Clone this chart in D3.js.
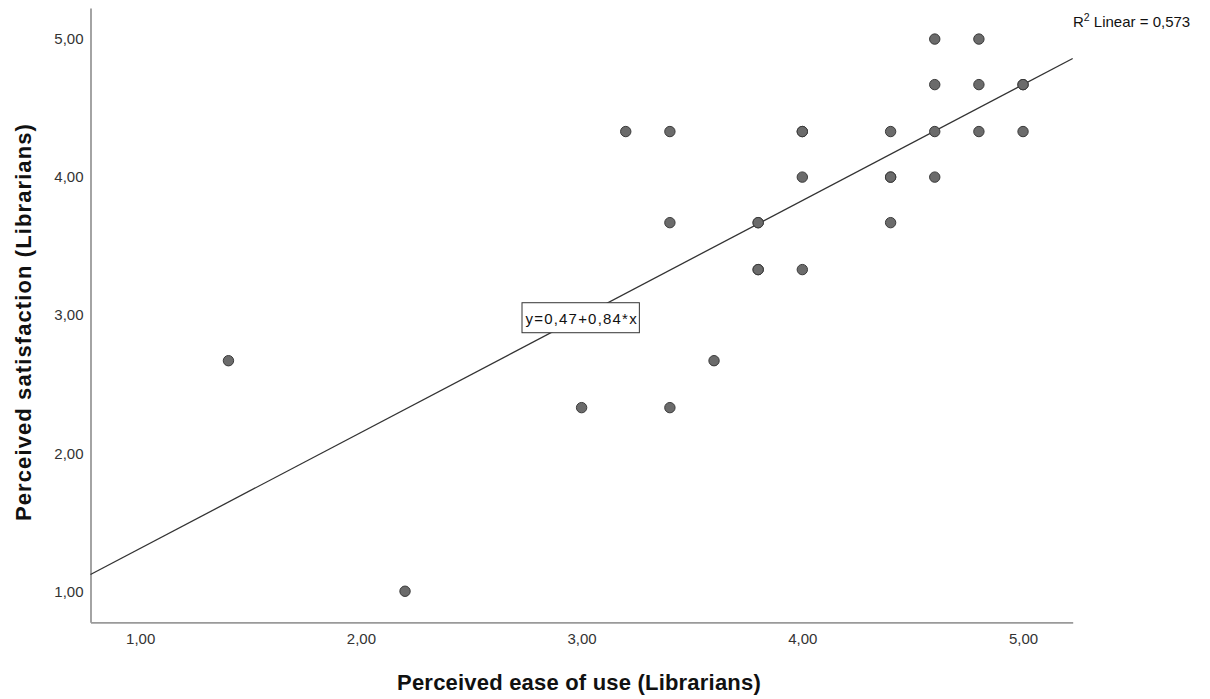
<!DOCTYPE html>
<html><head><meta charset="utf-8">
<script src="https://cdn.jsdelivr.net/npm/d3@7"></script>
<style>body{margin:0;background:#fff}svg{display:block}</style>
</head><body>
<svg id="c" width="1210" height="699"></svg>
<script>
const xValues = [1.4, 2.2, 3.0, 3.2, 3.4, 3.4, 3.4, 3.6, 3.8, 3.8, 3.8, 3.8, 4.0, 4.0, 4.0, 4.0, 4.4, 4.4, 4.4, 4.4, 4.6, 4.6, 4.6, 4.6, 4.8, 4.8, 4.8, 5.0, 5.0, 5.0];
const yValues = [2.67, 1.00, 2.33, 4.33, 4.33, 3.67, 2.33, 2.67, 3.67, 3.67, 3.33, 3.33, 4.33, 4.33, 4.00, 3.33, 4.33, 4.00, 4.00, 3.67, 5.00, 4.67, 4.33, 4.00, 5.00, 4.67, 4.33, 4.67, 4.67, 4.33];
const xTicks = [1, 2, 3, 4, 5];
const yTicks = [1, 2, 3, 4, 5];
const fitIntercept = 0.47, fitSlope = 0.84;
const fitLabel = "y=0,47+0,84*x";
const r2Label = "0,573";

const svg = d3.select("#c");
const FONT = "Liberation Sans, Arial, sans-serif";
const pLeft = 90.5, pRight = 1072.7, pTop = 8, pBottom = 622.3;
const x = d3.scaleLinear().domain([0.775, 5.225]).range([pLeft, pRight]);
const y = d3.scaleLinear().domain([0.775, 5.225]).range([pBottom, pTop]);
const fmt = v => d3.format(".2f")(v).replace(".", ",");

const gx = svg.append("g").attr("transform", `translate(0,${pBottom})`)
  .call(d3.axisBottom(x).tickValues(xTicks).tickFormat(fmt).tickSize(0).tickPadding(11));
const gy = svg.append("g").attr("transform", `translate(${pLeft},0)`)
  .call(d3.axisLeft(y).tickValues(yTicks).tickFormat(fmt).tickSize(0).tickPadding(7));
[gx, gy].forEach(g => {
  g.select(".domain").attr("stroke", "#9a9a9a").attr("stroke-width", 1.8);
  g.selectAll("text").attr("font-family", FONT).attr("font-size", 15).attr("fill", "#333");
});

// fit line
const xd = x.domain();
svg.append("line")
  .attr("x1", x(xd[0])).attr("y1", y(fitIntercept + fitSlope * xd[0]))
  .attr("x2", x(xd[1])).attr("y2", y(fitIntercept + fitSlope * xd[1]))
  .attr("stroke", "#333").attr("stroke-width", 1.3);

// points
svg.append("g").selectAll("circle").data(xValues.map((v, i) => [v, yValues[i]]))
  .join("circle")
  .attr("cx", d => x(d[0])).attr("cy", d => y(d[1])).attr("r", 5.2)
  .attr("fill", "#6b6b6b").attr("stroke", "#3a3a3a").attr("stroke-width", 1);

// fit label box
const lx = x(2.73), ly = y(2.985);
const lg = svg.append("g");
const lt = lg.append("text").attr("x", lx + 3.5).attr("y", ly + 7)
  .attr("font-family", FONT).attr("font-size", 15).attr("letter-spacing", 1.2).attr("fill", "#111")
  .text(fitLabel);
const bb = lt.node().getBBox();
lg.insert("rect", "text").attr("x", lx).attr("y", ly - 14.5).attr("width", bb.width + 5).attr("height", 30)
  .attr("fill", "#fff").attr("stroke", "#333").attr("stroke-width", 1);

// R2 label
const rt = svg.append("text").attr("x", 1073).attr("y", 27)
  .attr("font-family", FONT).attr("font-size", 15).attr("fill", "#111");
rt.append("tspan").text("R");
rt.append("tspan").attr("dy", -6).attr("font-size", 10.5).text("2");
rt.append("tspan").attr("dy", 6).text(" Linear = " + r2Label);

// axis titles
svg.append("text").attr("x", 579).attr("y", 690).attr("text-anchor", "middle")
  .attr("font-family", FONT).attr("font-weight", "bold").attr("font-size", 22).attr("letter-spacing", 0.2).attr("fill", "#111")
  .text("Perceived ease of use (Librarians)");
svg.append("text").attr("transform", `translate(31,322) rotate(-90)`).attr("text-anchor", "middle")
  .attr("font-family", FONT).attr("font-weight", "bold").attr("font-size", 22).attr("letter-spacing", 1.1).attr("fill", "#111")
  .text("Perceived satisfaction (Librarians)");
</script>
</body></html>
